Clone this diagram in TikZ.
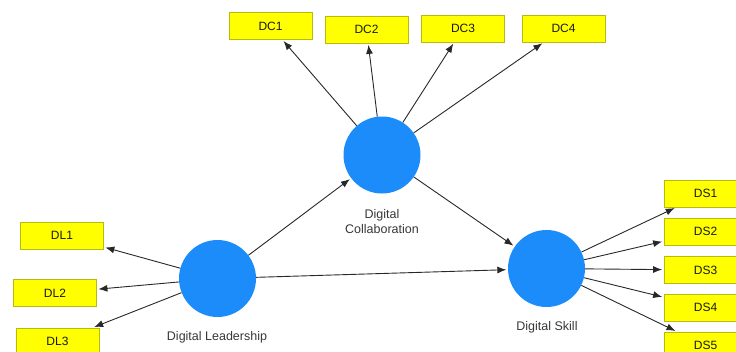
\documentclass[tikz,border=0pt]{standalone}
\usepackage{fontspec}
\setmainfont{Liberation Sans}
\usetikzlibrary{arrows.meta}
\definecolor{boxfill}{RGB}{255,255,0}
\definecolor{boxline}{RGB}{185,185,20}
\definecolor{lvblue}{RGB}{28,140,250}
\definecolor{linegray}{RGB}{40,40,40}
\definecolor{labgray}{RGB}{55,55,55}
\tikzset{
  ind/.style={draw=boxline, fill=boxfill, line width=0.8pt, minimum width=83pt, minimum height=27pt,
    inner sep=0pt, font=\fontsize{12}{14}\selectfont, text=black!90},
  lv/.style={circle, fill=lvblue, draw=none, minimum size=77pt, inner sep=0pt},
  lab/.style={font=\fontsize{12.5}{15}\selectfont, text=labgray, align=center, inner sep=0pt},
  conn/.style={draw=linegray, line width=0.9pt, -{Latex[length=9pt,width=7pt]}, shorten >=1.5pt}
}
\begin{document}
\begin{tikzpicture}[x=1pt,y=-1pt]
\useasboundingbox (0,0) rectangle (736,351);
% latent variables
\node[lv] (dc) at (382,155) {};
\node[lv] (dl) at (217.5,278.5) {};
\node[lv] (ds) at (546.5,268.5) {};
% labels
\node[lab] (dclab) at (382,221.5) {Digital\\Collaboration};
\node[lab] (dllab) at (217,337) {Digital Leadership};
\node[lab] (dslab) at (547,327) {Digital Skill};
% indicators
\node[ind] (dc1) at (270.5,26) {DC1};
\node[ind] (dc2) at (366.5,29.5) {DC2};
\node[ind] (dc3) at (463,28.5) {DC3};
\node[ind] (dc4) at (563.5,28.5) {DC4};
\node[ind] (dl1) at (62,235.5) {DL1};
\node[ind] (dl2) at (55,293) {DL2};
\node[ind] (dl3) at (57.5,341.5) {DL3};
\node[ind] (ds1) at (705.5,193.5) {DS1};
\node[ind] (ds2) at (705.5,231.5) {DS2};
\node[ind] (ds3) at (705.5,270) {DS3};
\node[ind] (ds4) at (705.5,307.5) {DS4};
\node[ind] (ds5) at (705.5,345.5) {DS5};
% connectors
\foreach \t in {dc1,dc2,dc3,dc4} \draw[conn] (dc) -- (\t);
\foreach \t in {dl1,dl2,dl3} \draw[conn] (dl) -- (\t);
\foreach \t in {ds1,ds2,ds3,ds4,ds5} \draw[conn] (ds) -- (\t);
\draw[conn] (dl) -- (dc);
\draw[conn] (dl) -- (ds);
\draw[conn] (dc) -- (ds);
\end{tikzpicture}
\end{document}
